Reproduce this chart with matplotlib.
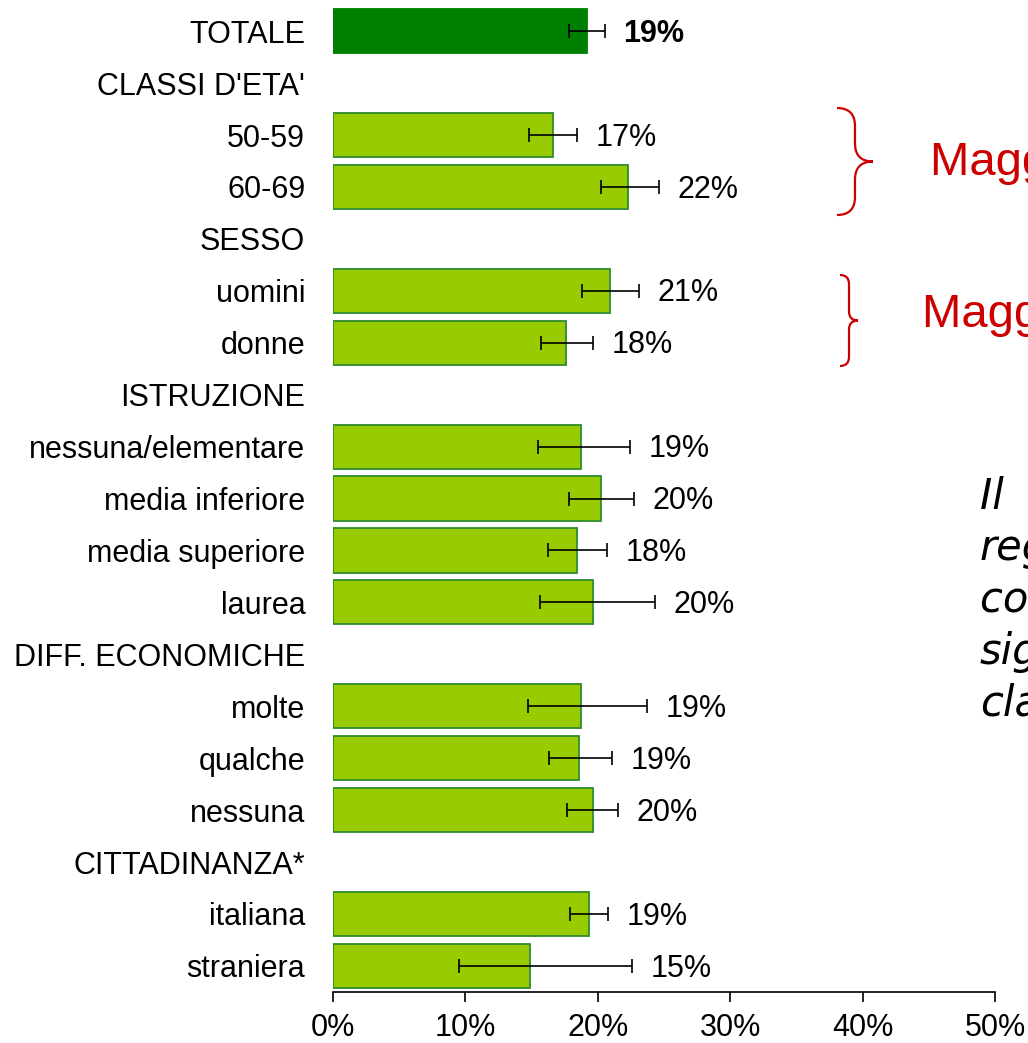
import numpy as np
import matplotlib.pyplot as plt
from matplotlib.path import Path
from matplotlib.patches import PathPatch

plt.rcParams['font.family'] = ['Liberation Sans', 'DejaVu Sans']

# rows of the chart, headers have no value
labels = ['TOTALE', "CLASSI D'ETA'", '50-59', '60-69', 'SESSO', 'uomini', 'donne',
          'ISTRUZIONE', 'nessuna/elementare', 'media inferiore', 'media superiore', 'laurea',
          'DIFF. ECONOMICHE', 'molte', 'qualche', 'nessuna',
          'CITTADINANZA*', 'italiana', 'straniera']
values = [19.2, np.nan, 16.6, 22.3, np.nan, 20.9, 17.6,
          np.nan, 18.7, 20.2, 18.4, 19.6,
          np.nan, 18.7, 18.6, 19.6,
          np.nan, 19.3, 14.9]
ci_low = [17.8, np.nan, 14.8, 20.2, np.nan, 18.8, 15.7,
          np.nan, 15.5, 17.8, 16.2, 15.6,
          np.nan, 14.7, 16.3, 17.7,
          np.nan, 17.9, 9.5]
ci_high = [20.5, np.nan, 18.4, 24.6, np.nan, 23.1, 19.6,
           np.nan, 22.4, 22.7, 20.7, 24.3,
           np.nan, 23.7, 21.1, 21.5,
           np.nan, 20.8, 22.6]

values = np.array(values)
ci_low = np.array(ci_low)
ci_high = np.array(ci_high)
y = np.arange(len(labels))

fig = plt.figure(figsize=(10.28, 10.43), dpi=100)
ax = fig.add_axes([0.324, 0.049, 0.644, 0.946])

has = ~np.isnan(values)
colors = ['#008000' if i == 0 else '#99cc00' for i in range(len(labels))]
edges = ['#008000' if i == 0 else '#2e8b2e' for i in range(len(labels))]
ax.barh(y[has], values[has], height=0.85, color=np.array(colors)[has],
        edgecolor=np.array(edges)[has], linewidth=1.3)
ax.errorbar(values[has], y[has],
            xerr=[values[has] - ci_low[has], ci_high[has] - values[has]],
            fmt='none', ecolor='black', elinewidth=1.2, capsize=5, capthick=1.2)

for i in y[has]:
    ax.text(ci_high[i] + 1.4, i + 0.05, f'{round(values[i]):.0f}%', va='center', ha='left',
            fontsize=22, fontweight='bold' if i == 0 else 'normal')

ax.set_ylim(len(labels) - 0.5, -0.5)
ax.set_xlim(0, 50)
ax.set_yticks(y)
ax.set_yticklabels(labels, fontsize=22)
ax.tick_params(axis='y', length=0, pad=20)
ax.set_xticks(np.arange(0, 51, 10))
ax.set_xticklabels([f'{t}%' for t in range(0, 51, 10)], fontsize=22)
ax.tick_params(axis='x', direction='out', length=7, width=1.2, pad=8)
for s in ['top', 'right', 'left']:
    ax.spines[s].set_visible(False)
ax.spines['bottom'].set_linewidth(1.2)


def brace(x0, y0, y1, w):
    # right-pointing curly brace, figure pixel coords from top-left
    ym = (y0 + y1) / 2
    xm = x0 + w * 0.5
    r = w * 0.5
    verts = [(x0, y0),
             (xm, y0), (xm, y0 + r),
             (xm, ym - r),
             (xm, ym), (x0 + w, ym),
             (xm, ym), (xm, ym + r),
             (xm, y1 - r),
             (xm, y1), (x0, y1)]
    codes = [Path.MOVETO,
             Path.CURVE3, Path.CURVE3,
             Path.LINETO,
             Path.CURVE3, Path.CURVE3,
             Path.CURVE3, Path.CURVE3,
             Path.LINETO,
             Path.CURVE3, Path.CURVE3]
    H = 1043
    verts = [(vx / 1028, (H - vy) / H) for vx, vy in verts]
    fig.add_artist(PathPatch(Path(verts, codes), transform=fig.transFigure,
                             fill=False, edgecolor='#cc0000', linewidth=1.6))


brace(837, 108, 215, 36)
brace(840, 275, 366, 18)

fig.text(930 / 1028, 1 - 163 / 1043, 'Maggiore tra i 60-69enni', color='#cc0000',
         fontsize=34, va='center', ha='left')
fig.text(922 / 1028, 1 - 315 / 1043, 'Maggiore negli uomini', color='#cc0000',
         fontsize=34, va='center', ha='left')

note = ['Il  dato', 'regionale', 'conferma le', 'significative', 'classi']
for k, line in enumerate(note):
    fig.text(980 / 1028, 1 - (496 + 52 * k) / 1043, line, fontsize=30, style='italic',
             family=['DejaVu Sans'], va='center', ha='left')

fig.savefig('out.png', dpi=100)
